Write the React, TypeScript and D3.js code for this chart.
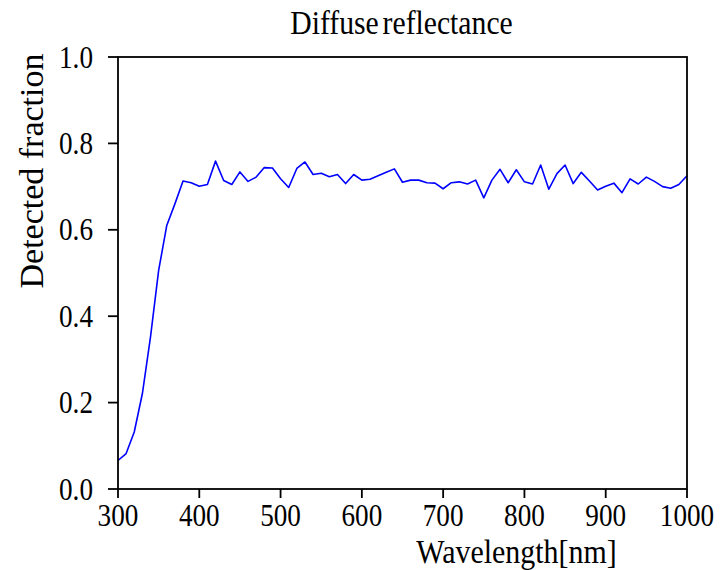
import React from "react";
import * as d3 from "d3";

const wavelengths: number[] = [
  300, 310, 320, 330, 340, 350, 360, 370, 380, 390,
  400, 410, 420, 430, 440, 450, 460, 470, 480, 490,
  500, 510, 520, 530, 540, 550, 560, 570, 580, 590,
  600, 610, 620, 630, 640, 650, 660, 670, 680, 690,
  700, 710, 720, 730, 740, 750, 760, 770, 780, 790,
  800, 810, 820, 830, 840, 850, 860, 870, 880, 890,
  900, 910, 920, 930, 940, 950, 960, 970, 980, 990, 1000,
];

const detected: number[] = [
  0.066, 0.082, 0.132, 0.221, 0.352, 0.506, 0.61, 0.66, 0.713, 0.709,
  0.701, 0.705, 0.759, 0.714, 0.705, 0.734, 0.712, 0.722, 0.744, 0.743,
  0.718, 0.698, 0.742, 0.757, 0.728, 0.731, 0.723, 0.728, 0.707, 0.728,
  0.715, 0.717, 0.725, 0.733, 0.741, 0.71, 0.715, 0.715, 0.709, 0.708,
  0.695, 0.709, 0.711, 0.706, 0.715, 0.674, 0.715, 0.74, 0.709, 0.739,
  0.711, 0.706, 0.75, 0.694, 0.73, 0.75, 0.707, 0.733, 0.713, 0.692,
  0.701, 0.708, 0.686, 0.718, 0.706, 0.722, 0.712, 0.7, 0.696, 0.705, 0.725,
];

const xTicks: number[] = [300, 400, 500, 600, 700, 800, 900, 1000];
const yTicks: number[] = [0, 0.2, 0.4, 0.6, 0.8, 1.0];

const titleText = "Diffuse reflectance";
const xLabel = "Wavelength[nm]";
const yLabel = "Detected fraction";

export default function App() {
  const W = 721;
  const H = 570;
  const left = 118;
  const right = 687;
  const top = 57;
  const bottom = 489;

  const x = d3.scaleLinear().domain([300, 1000]).range([left, right]);
  const y = d3.scaleLinear().domain([0, 1]).range([bottom, top]);

  const line = d3
    .line<number>()
    .x((_, i) => x(wavelengths[i]))
    .y((d) => y(d));

  const font = "'Liberation Serif', 'Times New Roman', serif";
  const tickLen = 9;

  return (
    <svg
      width={W}
      height={H}
      style={{ position: "absolute", left: 0, top: 0, background: "#fff" }}
    >
      <rect x={0} y={0} width={W} height={H} fill="#fff" />
      <path d={line(detected) || ""} fill="none" stroke="#0000ff" strokeWidth={1.6} strokeLinejoin="round" />
      <rect
        x={left}
        y={top}
        width={right - left}
        height={bottom - top}
        fill="none"
        stroke="#000"
        strokeWidth={1.8}
      />
      {xTicks.map((t) => (
        <g key={"x" + t}>
          <line x1={x(t)} x2={x(t)} y1={bottom} y2={bottom + tickLen} stroke="#000" strokeWidth={1.8} />
          <text
            transform={`translate(${x(t)},${526}) scale(0.85,1)`}
            textAnchor="middle"
            fontFamily={font}
            fontSize={32}
            fill="#000"
          >
            {t}
          </text>
        </g>
      ))}
      {yTicks.map((t) => (
        <g key={"y" + t}>
          <line x1={left - tickLen - 1} x2={left} y1={y(t)} y2={y(t)} stroke="#000" strokeWidth={1.8} />
          <text
            transform={`translate(${93},${y(t) + 10.5}) scale(0.85,1)`}
            textAnchor="end"
            fontFamily={font}
            fontSize={32}
            fill="#000"
          >
            {t.toFixed(1)}
          </text>
        </g>
      ))}
      <text
        transform={`translate(${401.5},${34}) scale(0.9,1)`}
        textAnchor="middle"
        fontFamily={font}
        fontSize={33}
        fill="#000"
        style={{ wordSpacing: "-4px" }}
      >
        {titleText}
      </text>
      <text
        transform={`translate(${516.5},${562.5}) scale(0.88,1)`}
        textAnchor="middle"
        fontFamily={font}
        fontSize={34}
        fill="#000"
      >
        {xLabel}
      </text>
      <text
        transform={`translate(${43},${171}) rotate(-90) scale(1.0,1)`}
        textAnchor="middle"
        fontFamily={font}
        fontSize={34}
        fill="#000"
      >
        {yLabel}
      </text>
    </svg>
  );
}
